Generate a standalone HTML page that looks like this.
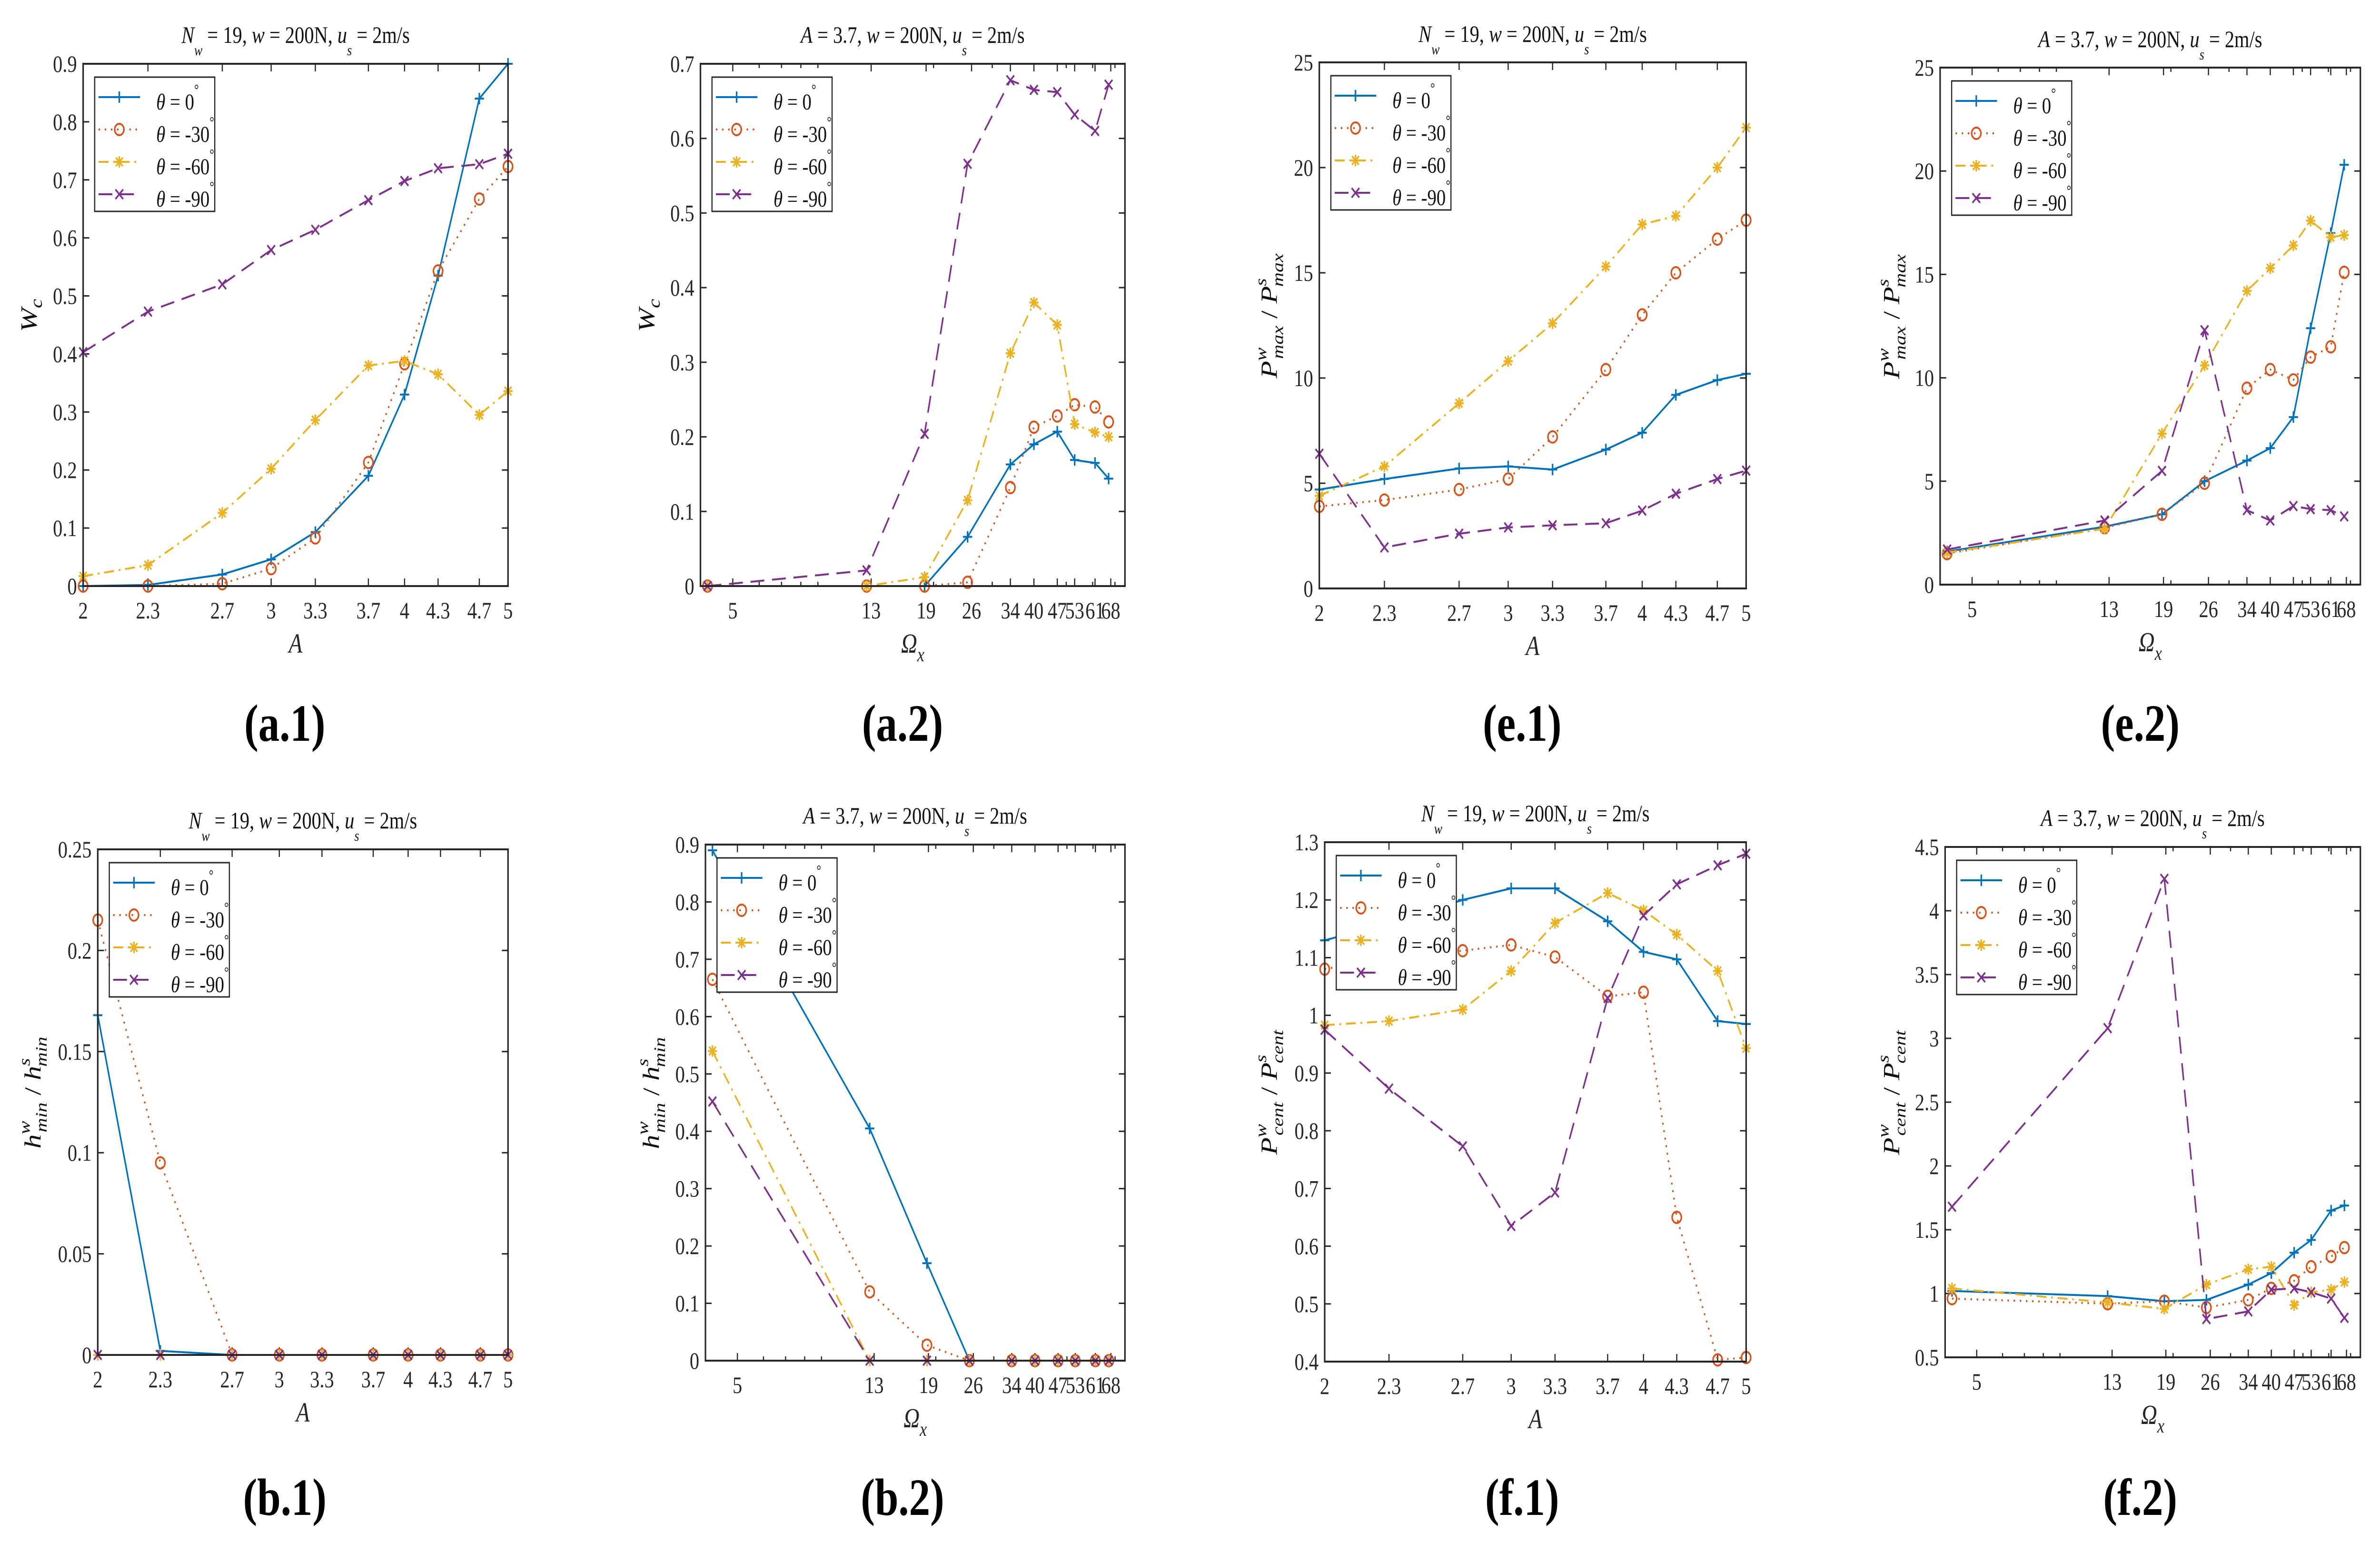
<!DOCTYPE html>
<html><head><meta charset="utf-8"><style>
html,body{margin:0;padding:0;background:#fff;width:100%;height:100%;overflow:hidden;}
svg{display:block;font-family:"Liberation Serif",serif;width:100vw;height:100vh;}
</style></head><body>
<svg id="fig" xmlns="http://www.w3.org/2000/svg" viewBox="0 0 6184 3241" preserveAspectRatio="none"></svg>
<script>
// ---- data ----
const A_x = [2,2.3,2.7,3,3.3,3.7,4,4.3,4.7,5];
const A_ticks = ["2","2.3","2.7","3","3.3","3.7","4","4.3","4.7","5"];
const O_x = [4.2,12.6,18.8,25.3,34,40,47,53,61,67];
const O_ticks = [5,13,19,26,34,40,47,53,61,68];
const O_minor = [6,7,8,9,20,30,50,60,70];

const a1_t0 = [0,0.002,0.02,0.046,0.093,0.19,0.33,0.535,0.84,0.9];
const a1_t30 = [0,0,0.004,0.03,0.083,0.213,0.383,0.543,0.667,0.723];
const a1_t60 = [0.017,0.036,0.126,0.202,0.286,0.38,0.388,0.365,0.295,0.336];
const a1_t90 = [0.403,0.473,0.52,0.579,0.614,0.665,0.698,0.72,0.727,0.745];

const a2_t0 = [0,0,0,0.066,0.163,0.19,0.207,0.169,0.165,0.144];
const a2_t30 = [0,0,0,0.005,0.132,0.213,0.228,0.243,0.24,0.22];
const a2_t60 = [0,0,0.012,0.115,0.312,0.38,0.35,0.217,0.206,0.2];
const a2_t90 = [0,0.021,0.204,0.566,0.678,0.665,0.662,0.632,0.61,0.672];

const e1_t0 = [4.7,5.2,5.7,5.8,5.65,6.6,7.4,9.2,9.9,10.2];
const e1_t30 = [3.9,4.2,4.7,5.2,7.2,10.4,13.0,15.0,16.6,17.5];
const e1_t60 = [4.4,5.8,8.8,10.8,12.6,15.3,17.3,17.7,20.0,21.9];
const e1_t90 = [6.4,1.95,2.6,2.9,3.0,3.1,3.7,4.5,5.2,5.6];

const e2_t0 = [1.6,2.8,3.4,5.0,6.0,6.6,8.1,12.4,17.0,20.3];
const e2_t30 = [1.5,2.75,3.4,4.9,9.5,10.4,9.9,11.0,11.5,15.1];
const e2_t60 = [1.55,2.7,7.3,10.6,14.2,15.3,16.4,17.6,16.8,16.9];
const e2_t90 = [1.7,3.1,5.5,12.3,3.6,3.1,3.8,3.65,3.6,3.3];

const b1_t0 = [0.168,0.002,0,0,0,0,0,0,0,0];
const b1_t30 = [0.215,0.095,0,0,0,0,0,0,0,0];
const b1_t60 = [0,0,0,0,0,0,0,0,0,0];
const b1_t90 = [0,0,0,0,0,0,0,0,0,0];

const b2_t0 = [0.89,0.405,0.17,0,0,0,0,0,0,0];
const b2_t30 = [0.665,0.12,0.027,0,0,0,0,0,0,0];
const b2_t60 = [0.54,0,0,0,0,0,0,0,0,0];
const b2_t90 = [0.452,0,0,0,0,0,0,0,0,0];

const f1_t0 = [1.13,1.16,1.2,1.22,1.22,1.163,1.11,1.097,0.99,0.985];
const f1_t30 = [1.08,1.1,1.112,1.122,1.101,1.033,1.04,0.65,0.403,0.407];
const f1_t60 = [0.983,0.99,1.01,1.077,1.16,1.212,1.182,1.14,1.077,0.943];
const f1_t90 = [0.975,0.873,0.773,0.635,0.693,1.03,1.173,1.227,1.26,1.28];

const f2_t0 = [1.02,0.98,0.94,0.95,1.07,1.16,1.32,1.42,1.65,1.69];
const f2_t30 = [0.96,0.92,0.94,0.89,0.95,1.04,1.1,1.21,1.29,1.36];
const f2_t60 = [1.04,0.93,0.88,1.07,1.19,1.21,0.91,1.01,1.03,1.09];
const f2_t90 = [1.68,3.08,4.25,0.8,0.86,1.03,1.04,1.01,0.96,0.81];

const ytick_a1 = ["0","0.1","0.2","0.3","0.4","0.5","0.6","0.7","0.8","0.9"];
const ytick_a2 = ["0","0.1","0.2","0.3","0.4","0.5","0.6","0.7"];
const ytick_e = ["0","5","10","15","20","25"];
const ytick_b1 = ["0","0.05","0.1","0.15","0.2","0.25"];
const ytick_b2 = ["0","0.1","0.2","0.3","0.4","0.5","0.6","0.7","0.8","0.9"];
const ytick_f1 = ["0.4","0.5","0.6","0.7","0.8","0.9","1","1.1","1.2","1.3"];
const ytick_f2 = ["0.5","1","1.5","2","2.5","3","3.5","4","4.5"];

// ---- rendering ----
const NS = "http://www.w3.org/2000/svg";
const svg = document.getElementById('fig');
const COLORS = ["#0072BD","#D95319","#EDB120","#7E2F8E"];
const DASH = ["", "4 12", "26 12 5 12", "36 20"];
const MARK = ["plus","circle","star","cross"];
const LEG = ["0","-30","-60","-90"];

function mk(tag, attrs, parent){
  const e = document.createElementNS(NS, tag);
  for (const k in attrs) e.setAttribute(k, attrs[k]);
  (parent||svg).appendChild(e);
  return e;
}
function marker(g, type, x, y, color){
  const s = 12;
  let d;
  if (type === "plus") d = `M${x-s},${y}H${x+s}M${x},${y-s}V${y+s}`;
  else if (type === "cross") d = `M${x-10},${y-10}L${x+10},${y+10}M${x-10},${y+10}L${x+10},${y-10}`;
  else if (type === "star") d = `M${x-s},${y}H${x+s}M${x},${y-s}V${y+s}M${x-9},${y-9}L${x+9},${y+9}M${x-9},${y+9}L${x+9},${y-9}`;
  if (type === "circle") {
    const c = mk('circle', {cx:x, cy:y, r:12, fill:'none', stroke:color, 'stroke-width':4}, g);
    
    
  } else {
    const p = mk('path', {d:d, fill:'none', stroke:color, 'stroke-width':4}, g);
    
    
  }
}
function addTitle(g, cx, y, kind){
  const t = mk('text', {x:cx, y:y, 'font-size':50, 'text-anchor':'middle', fill:'#111'}, g);
  t.setAttribute('xml:space','preserve');
  
  
  if (kind === 'N') {
    t.innerHTML = '<tspan font-style="italic">N</tspan><tspan font-size="32" dy="26" font-style="italic">w</tspan><tspan dy="-26">  = 19,  </tspan><tspan font-style="italic">w</tspan><tspan>  = 200N,  </tspan><tspan font-style="italic">u</tspan><tspan font-size="32" dy="26" font-style="italic">s</tspan><tspan dy="-26">  = 2m/s</tspan>';
  } else {
    t.innerHTML = '<tspan font-style="italic">A</tspan><tspan>  = 3.7,  </tspan><tspan font-style="italic">w</tspan><tspan>  = 200N,  </tspan><tspan font-style="italic">u</tspan><tspan font-size="32" dy="26" font-style="italic">s</tspan><tspan dy="-26">  = 2m/s</tspan>';
  }
}
function addYLabel(g, x, y, kind){
  const t = mk('text', {x:0, y:0, 'font-size':60, 'text-anchor':'middle', 'font-style':'italic', fill:'#111', transform:`translate(${x},${y}) rotate(-90)`}, g);
  
  
  if (kind === 'W') t.innerHTML = 'W<tspan font-size="44" dy="14">c</tspan>';
  else {
    const base = kind === 'P' ? 'P' : (kind === 'C' ? 'P' : 'h');
    const sub = kind === 'P' ? 'max' : (kind === 'C' ? 'cent' : 'min');
    t.innerHTML = `${base}<tspan font-size="42" dy="-28">w</tspan><tspan font-size="42" dx="-24" dy="44">${sub}</tspan><tspan dy="-16" font-style="normal"> / </tspan>${base}<tspan font-size="42" dy="-28">s</tspan><tspan font-size="42" dx="-18" dy="44">${sub}</tspan>`;
  }
}

function panel(cfg){
  const g = mk('g', {});
  
  
  const L = cfg.box[0], T = cfg.box[1], R = cfg.box[2], B = cfg.box[3];
  const xs = v => L + (Math.log10(v) - Math.log10(cfg.xd[0])) / (Math.log10(cfg.xd[1]) - Math.log10(cfg.xd[0])) * (R - L);
  const ys = v => B - (v - cfg.yd[0]) / (cfg.yd[1] - cfg.yd[0]) * (B - T);
  const tg = mk('g', {stroke:'#262626', 'stroke-width':3, fill:'none'}, g);
  
  
  cfg.xt.forEach(v => {
    const x = xs(v);
    mk('path', {d:`M${x},${B}v-16M${x},${T}v16`}, tg);
  });
  (cfg.xminor||[]).forEach(v => {
    const x = xs(v);
    mk('path', {d:`M${x},${B}v-9M${x},${T}v9`}, tg);
  });
  cfg.yt.forEach(lbl => {
    const y = ys(parseFloat(lbl));
    mk('path', {d:`M${L},${y}h16M${R},${y}h-16`}, tg);
  });
  const lg = mk('g', {'font-size':50, fill:'#262626'}, g);
  
  
  cfg.xt.forEach((v, i) => {
    const t = mk('text', {x:xs(v), y:B+68, 'text-anchor':'middle'}, lg);
    t.textContent = cfg.xtl[i];
    
    
  });
  cfg.yt.forEach(lbl => {
    const t = mk('text', {x:L-16, y:ys(parseFloat(lbl))+17, 'text-anchor':'end'}, lg);
    t.textContent = lbl;
    
    
  });
  cfg.series.forEach((vals, si) => {
    const sg = mk('g', {}, g);
    
    
    const pts = vals.map((v, i) => `${xs(cfg.x[i]).toFixed(1)},${ys(v).toFixed(1)}`).join(' ');
    const pl = mk('polyline', {points:pts, fill:'none', stroke:COLORS[si], 'stroke-width':4, 'stroke-dasharray':DASH[si], 'stroke-linejoin':'round'}, sg);
    
    
    vals.forEach((v, i) => marker(sg, MARK[si], xs(cfg.x[i]), ys(v), COLORS[si]));
  });
  const bx = mk('rect', {x:L, y:T, width:R-L, height:B-T, fill:'none', stroke:'#262626', 'stroke-width':4}, g);
  
  
  const lgd = mk('g', {}, g);
  
  
  const lx = L + 30, ly = T + 28;
  mk('rect', {x:lx, y:ly, width:312, height:282, fill:'#fff', stroke:'#262626', 'stroke-width':3}, lgd);
  LEG.forEach((lab, i) => {
    const ry = ly + 42 + i * 68;
    const ent = mk('g', {}, lgd);
    
    
    mk('path', {d:`M${lx+10},${ry}H${lx+118}`, stroke:COLORS[i], 'stroke-width':4, 'stroke-dasharray':DASH[i], fill:'none'}, ent);
    marker(ent, MARK[i], lx+64, ry, COLORS[i]);
    const t = mk('text', {x:lx+160, y:ry+26, 'font-size':48, fill:'#111'}, ent);
    t.setAttribute('xml:space','preserve');
    t.innerHTML = `<tspan font-style="italic">θ</tspan> = ${lab}<tspan font-size="30" dy="-32">°</tspan>`;
  });
  addTitle(g, (L+R)/2, cfg.ty, cfg.tk);
  const xl = mk('text', {x:(L+R)/2, y:B+140, 'font-size':58, 'text-anchor':'middle', 'font-style':'italic', fill:'#262626'}, g);
  
  
  if (cfg.xtl[0] === "5") xl.innerHTML = 'Ω<tspan font-size="42" dy="18">x</tspan>';
  else xl.textContent = 'A';
  addYLabel(g, cfg.ylx, (T+B)/2 - 20, cfg.yk);
  const cap = mk('text', {x:cfg.capx, y:cfg.capy, 'font-size':110, 'font-weight':'bold', 'text-anchor':'middle', fill:'#000'}, g);
  cap.textContent = '(' + cfg.id + ')';
  
  
}

const Aax = {xd:[2,5], x:A_x, xt:A_x, xtl:A_ticks};
const Oax = {xd:[4,75], x:O_x, xt:O_ticks, xtl:O_ticks.map(String), xminor:O_minor};

panel(Object.assign({}, Aax, {id:'a.1', box:[216,134,1320,1231], yd:[0,0.9], yt:ytick_a1, series:[a1_t0,a1_t30,a1_t60,a1_t90], ty:90, tk:'N', ylx:95, yk:'W', capx:740, capy:1556}));
panel(Object.assign({}, Oax, {id:'a.2', box:[1820,134,2923,1231], yd:[0,0.7], yt:ytick_a2, series:[a2_t0,a2_t30,a2_t60,a2_t90], ty:90, tk:'A', ylx:1700, yk:'W', capx:2345, capy:1556}));
panel(Object.assign({}, Aax, {id:'e.1', box:[3428,131,4537,1236], yd:[0,25], yt:ytick_e, series:[e1_t0,e1_t30,e1_t60,e1_t90], ty:88, tk:'N', ylx:3318, yk:'P', capx:3955, capy:1556}));
panel(Object.assign({}, Oax, {id:'e.2', box:[5041,142,6133,1228], yd:[0,25], yt:ytick_e, series:[e2_t0,e2_t30,e2_t60,e2_t90], ty:99, tk:'A', ylx:4935, yk:'P', capx:5561, capy:1556}));
panel(Object.assign({}, Aax, {id:'b.1', box:[254,1784,1320,2846], yd:[0,0.25], yt:ytick_b1, series:[b1_t0,b1_t30,b1_t60,b1_t90], ty:1740, tk:'N', ylx:105, yk:'H', capx:740, capy:3182}));
panel(Object.assign({}, Oax, {id:'b.2', box:[1833,1774,2923,2858], yd:[0,0.9], yt:ytick_b2, series:[b2_t0,b2_t30,b2_t60,b2_t90], ty:1730, tk:'A', ylx:1712, yk:'H', capx:2345, capy:3182}));
panel(Object.assign({}, Aax, {id:'f.1', box:[3442,1769,4537,2860], yd:[0.4,1.3], yt:ytick_f1, series:[f1_t0,f1_t30,f1_t60,f1_t90], ty:1725, tk:'N', ylx:3318, yk:'C', capx:3955, capy:3182}));
panel(Object.assign({}, Oax, {id:'f.2', box:[5054,1779,6133,2851], yd:[0.5,4.5], yt:ytick_f2, series:[f2_t0,f2_t30,f2_t60,f2_t90], ty:1735, tk:'A', ylx:4935, yk:'C', capx:5561, capy:3182}));
</script>
</body></html>
